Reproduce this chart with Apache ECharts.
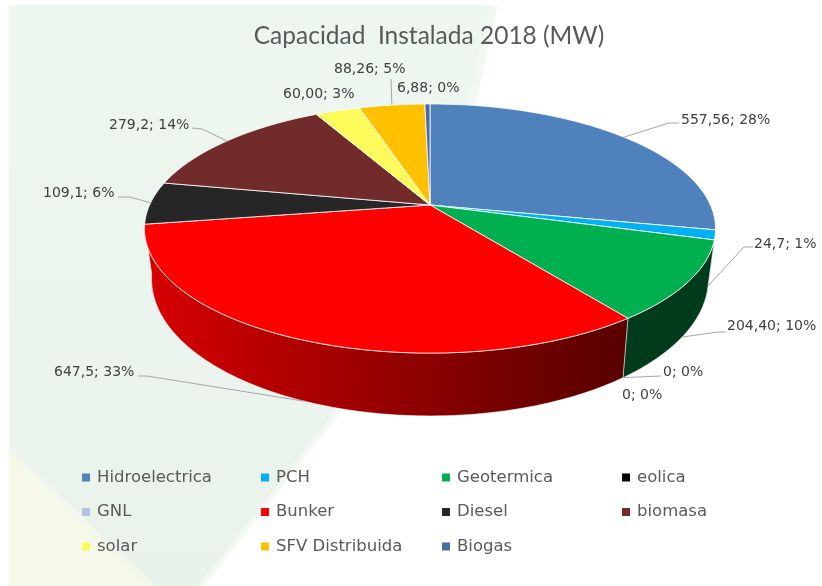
<!DOCTYPE html>
<html>
<head>
<meta charset="utf-8">
<style>
html, body { margin: 0; padding: 0; background: #fff; }
#chart { width: 822px; height: 586px; }
</style>
<script src="https://cdn.jsdelivr.net/npm/echarts@6/dist/echarts.min.js"></script>
</head>
<body>
<div id="chart"></div>
<script>
const categories = ["Hidroelectrica", "PCH", "Geotermica", "eolica", "GNL", "Bunker", "Diesel", "biomasa", "solar", "SFV Distribuida", "Biogas"];
const values = [557.56, 24.7, 204.40, 0, 0, 647.5, 109.1, 279.2, 60.00, 88.26, 6.88];
const valueLabels = ["557,56", "24,7", "204,40", "0", "0", "647,5", "109,1", "279,2", "60,00", "88,26", "6,88"];
const percents = [28, 1, 10, 0, 0, 33, 6, 14, 3, 5, 0];
const colors = ["#4f81bd", "#00b0f0", "#00b050", "#000000", "#b4c3df", "#ff0000", "#262626", "#722b2b", "#fdfb5c", "#ffc000", "#4a6da7"];

////////////////////////////////////////////
/////////  pie geometry  ///////////////////
////////////////////////////////////////////

// the pie is a tilted disc seen in perspective, so the centre sits above the middle of the ellipse
const cx = 430, cy = 205;
const radiusX = 280.4, radiusY = 120.1, perspective = 0.189;
// lower rim of the side wall
const lowerDy = 48, lowerScaleX = 0.975, lowerScaleY = 1.10;

const total = values.reduce((a, b) => a + b, 0);
const startAngles = [];
let soFar = 0;
for (const v of values) {
    startAngles.push(soFar / total * 2 * Math.PI);
    soFar += v;
}

function topPoint(angle) {
    const w = 1 + perspective * Math.cos(angle);
    return [cx + radiusX * Math.sin(angle) / w, cy - radiusY * Math.cos(angle) / w];
}

function lowerPoint(angle) {
    const p = topPoint(angle);
    return [cx + (p[0] - cx) * lowerScaleX, cy + lowerDy + (p[1] - cy) * lowerScaleY];
}

function arcPoints(start, end, pointFn) {
    const steps = Math.max(2, Math.ceil((end - start) / 0.02));
    const points = [];
    for (let i = 0; i <= steps; i++) {
        points.push(pointFn(start + (end - start) * i / steps));
    }
    return points;
}

function shade(hex, factor) {
    const n = parseInt(hex.slice(1), 16);
    const r = Math.round((n >> 16 & 255) * factor);
    const g = Math.round((n >> 8 & 255) * factor);
    const b = Math.round((n & 255) * factor);
    return `rgb(${r},${g},${b})`;
}

// walls get darker from left to right
function wallFactor(x) {
    return Math.max(0.34, 0.84 - (x - 150) / 470 * 0.5);
}

////////////////////////////////////////////
/////////  render functions  ///////////////
////////////////////////////////////////////

function renderTop(i) {
    return function () {
        if (values[i] === 0) return { type: 'group', children: [] };
        const points = arcPoints(startAngles[i], startAngles[i] + values[i] / total * 2 * Math.PI, topPoint);
        points.push([cx, cy]);
        return {
            type: 'polygon',
            shape: { points: points },
            style: { fill: colors[i], stroke: 'rgba(255,255,255,0.8)', lineWidth: 1, lineJoin: 'round' }
        };
    };
}

function renderWall(params) {
    const i = params.dataIndex;
    if (values[i] === 0) return { type: 'group', children: [] };
    const start = startAngles[i];
    const end = start + values[i] / total * 2 * Math.PI;
    // only the near side of the disc shows a wall, the left end is where the silhouette turns
    const wallStart = Math.max(start, Math.PI * 0.58);
    const wallEnd = Math.min(end, Math.PI * 1.45);
    if (wallEnd <= wallStart) return { type: 'group', children: [] };
    const upper = arcPoints(wallStart, wallEnd, topPoint);
    const lower = arcPoints(wallStart, wallEnd, lowerPoint).reverse();
    const points = upper.concat(lower);
    const xs = points.map(p => p[0]);
    const minX = Math.min(...xs), maxX = Math.max(...xs);
    const stops = [0, 0.25, 0.5, 0.75, 1].map(t => ({
        offset: t,
        color: shade(colors[i], wallFactor(minX + (maxX - minX) * t))
    }));
    return {
        type: 'polygon',
        shape: { points: points },
        style: {
            fill: new echarts.graphic.LinearGradient(0, 0, 1, 0, stops),
            stroke: 'rgba(255,255,255,0.6)',
            lineWidth: 0.8
        }
    };
}

// where each label and its leader elbow go, same order as categories
const labelPos = [[681, 120], [754, 244], [727, 326], [663, 372], [622, 395], [54, 372], [43, 193], [109, 125], [283, 94], [334, 69], [397, 88]];
const elbows = [[[669, 123], [679, 123]], [[744, 247], [753, 247]], [[718, 332], [726, 332]], [[661, 376]], null, [[147, 376], [138, 376]], [[130, 197], [118, 197]], [[202, 129], [192, 128]], null, [[391, 79]], null];

function renderLabel(params) {
    const i = params.dataIndex;
    const children = [];
    if (elbows[i]) {
        const mid = startAngles[i] + values[i] / total * Math.PI;
        const anchor = Math.cos(mid) < 0 ? lowerPoint(mid) : topPoint(mid);
        children.push({
            type: 'polyline',
            shape: { points: [anchor].concat(elbows[i]) },
            style: { fill: 'none', stroke: '#a6a6a6', lineWidth: 1 }
        });
    }
    children.push({
        type: 'text',
        x: labelPos[i][0],
        y: labelPos[i][1],
        style: {
            text: `${valueLabels[i]}; ${percents[i]}%`,
            fill: '#404040',
            font: '14px "DejaVu Sans"',
            verticalAlign: 'middle'
        }
    });
    return { type: 'group', children: children };
}

////////////////////////////////////////////
/////////  chart  //////////////////////////
////////////////////////////////////////////

const series = [{
    type: 'custom',
    name: 'walls',
    coordinateSystem: 'none',
    silent: true,
    z: 1,
    data: values,
    renderItem: renderWall
}];
categories.forEach((name, i) => {
    series.push({
        type: 'custom',
        name: name,
        coordinateSystem: 'none',
        silent: true,
        z: 2,
        data: [values[i]],
        itemStyle: { color: colors[i] },
        renderItem: renderTop(i)
    });
});
series.push({
    type: 'custom',
    name: 'labels',
    coordinateSystem: 'none',
    silent: true,
    z: 3,
    data: values,
    renderItem: renderLabel
});

// legend is four columns reading across
const legendLefts = [77, 256, 437, 617];
const legends = legendLefts.map((left, col) => ({
    orient: 'vertical',
    left: left,
    top: 464,
    itemWidth: 8,
    itemHeight: 8,
    itemGap: 17.5,
    icon: 'rect',
    selectedMode: false,
    textStyle: { fontFamily: 'DejaVu Sans', fontSize: 16.5, color: '#595959', padding: [0, 0, 0, 2], height: 17, lineHeight: 17 },
    data: categories.filter((c, i) => i % 4 === col)
}));

const chart = echarts.init(document.getElementById('chart'), null, { renderer: 'canvas' });
chart.setOption({
    animation: false,
    backgroundColor: '#fff',
    title: {
        text: 'Capacidad  Instalada 2018 (MW)',
        left: 424,
        top: 19,
        textAlign: 'center',
        textStyle: { fontFamily: 'Lato', fontSize: 24.5, fontWeight: 'normal', color: '#595959' }
    },
    legend: legends,
    graphic: [
        {
            type: 'polygon',
            silent: true,
            z: -2,
            shape: { points: [[9, 5], [498, 5], [476, 103], [440, 220], [360, 385], [340, 413], [204, 586], [9, 586]] },
            style: { fill: '#f3f8f2' }
        },
        {
            type: 'polygon',
            silent: true,
            z: -1,
            shape: { points: [[9, 5], [490, 5], [468, 103], [432, 220], [352, 385], [334, 413], [198, 586], [9, 586]] },
            style: {
                fill: new echarts.graphic.LinearGradient(0, 0, 0, 1, [
                    { offset: 0, color: '#eef6f0' },
                    { offset: 1, color: '#e9f3ec' }
                ])
            }
        },
        {
            type: 'polygon',
            silent: true,
            z: 0,
            shape: { points: [[9, 446], [156, 586], [9, 586]] },
            style: { fill: '#f2f7ee' }
        },
        {
            type: 'polygon',
            silent: true,
            z: 0,
            shape: { points: [[9, 453], [147, 586], [9, 586]] },
            style: { fill: '#f6f9e9' }
        }
    ],
    series: series
});
</script>
</body>
</html>
